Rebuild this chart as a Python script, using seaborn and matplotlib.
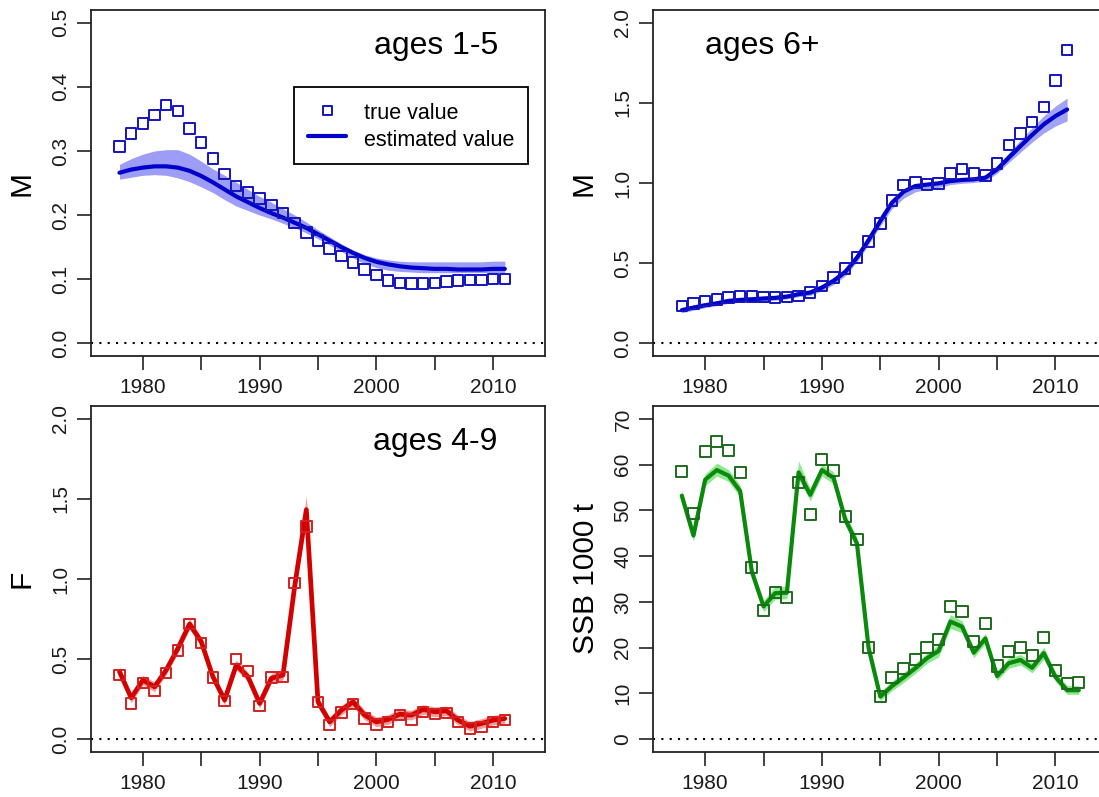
import matplotlib
matplotlib.use("Agg")
import matplotlib.pyplot as plt
import numpy as np
import pandas as pd
import seaborn as sns

# ---------------- data ----------------
years_m = list(range(1978, 2012))          # 34 years
years_ssb = list(range(1978, 2013))        # 35 years

m15_true = [0.307, 0.327, 0.343, 0.356, 0.372, 0.362, 0.335, 0.313, 0.288, 0.264,
            0.245, 0.235, 0.226, 0.216, 0.203, 0.188, 0.173, 0.160, 0.148, 0.136,
            0.126, 0.115, 0.106, 0.098, 0.094, 0.093, 0.093, 0.094, 0.096, 0.098,
            0.099, 0.099, 0.100, 0.100]
m15_est = [0.266, 0.271, 0.274, 0.276, 0.276, 0.274, 0.269, 0.261, 0.251, 0.240,
           0.229, 0.220, 0.211, 0.203, 0.196, 0.188, 0.180, 0.170, 0.160, 0.150,
           0.141, 0.133, 0.127, 0.123, 0.120, 0.118, 0.117, 0.116, 0.116, 0.115,
           0.115, 0.115, 0.116, 0.116]
m15_hi = [0.279, 0.288, 0.295, 0.300, 0.302, 0.302, 0.295, 0.284, 0.272, 0.262,
          0.251, 0.240, 0.229, 0.220, 0.210, 0.200, 0.189, 0.177, 0.166, 0.155,
          0.145, 0.138, 0.133, 0.130, 0.128, 0.127, 0.127, 0.127, 0.127, 0.127,
          0.127, 0.127, 0.128, 0.128]
m15_lo = [0.256, 0.259, 0.262, 0.263, 0.262, 0.258, 0.252, 0.244, 0.235, 0.224,
          0.214, 0.207, 0.200, 0.194, 0.187, 0.180, 0.172, 0.163, 0.153, 0.143,
          0.133, 0.124, 0.118, 0.114, 0.112, 0.111, 0.110, 0.110, 0.110, 0.110,
          0.110, 0.110, 0.110, 0.110]

m6_true = [0.233, 0.247, 0.264, 0.274, 0.285, 0.291, 0.291, 0.289, 0.285, 0.289,
           0.295, 0.316, 0.358, 0.410, 0.466, 0.534, 0.634, 0.746, 0.892, 0.987,
           1.002, 0.990, 0.998, 1.060, 1.089, 1.060, 1.048, 1.121, 1.237, 1.308,
           1.380, 1.476, 1.640, 1.829]
m6_est = [0.206, 0.222, 0.237, 0.249, 0.264, 0.270, 0.274, 0.279, 0.283, 0.291,
          0.306, 0.316, 0.347, 0.389, 0.445, 0.534, 0.644, 0.763, 0.877, 0.946,
          0.981, 0.990, 0.998, 1.012, 1.019, 1.023, 1.033, 1.085, 1.158, 1.230,
          1.300, 1.366, 1.418, 1.459]
m6_hi = [0.222, 0.238, 0.252, 0.264, 0.279, 0.285, 0.289, 0.294, 0.298, 0.306,
         0.322, 0.334, 0.367, 0.412, 0.470, 0.560, 0.672, 0.790, 0.900, 0.962,
         0.995, 1.003, 1.010, 1.025, 1.033, 1.038, 1.050, 1.108, 1.188, 1.268,
         1.345, 1.420, 1.480, 1.530]
m6_lo = [0.190, 0.206, 0.222, 0.234, 0.249, 0.255, 0.259, 0.264, 0.268, 0.276,
         0.290, 0.298, 0.327, 0.366, 0.420, 0.508, 0.616, 0.730, 0.840, 0.905,
         0.945, 0.960, 0.972, 0.990, 0.998, 1.003, 1.012, 1.060, 1.128, 1.192,
         1.255, 1.312, 1.356, 1.388]

f_true = [0.400, 0.223, 0.352, 0.300, 0.415, 0.553, 0.719, 0.599, 0.386, 0.238,
          0.500, 0.425, 0.208, 0.386, 0.390, 0.974, 1.328, 0.233, 0.088, 0.167,
          0.219, 0.129, 0.092, 0.108, 0.150, 0.123, 0.171, 0.156, 0.165, 0.108,
          0.067, 0.077, 0.108, 0.119]
f_est = [0.421, 0.258, 0.369, 0.327, 0.432, 0.567, 0.719, 0.609, 0.390, 0.244,
         0.463, 0.390, 0.223, 0.380, 0.400, 0.953, 1.433, 0.233, 0.108, 0.181,
         0.233, 0.150, 0.108, 0.123, 0.156, 0.150, 0.186, 0.171, 0.177, 0.119,
         0.081, 0.098, 0.119, 0.129]
f_hi = [0.451, 0.288, 0.399, 0.357, 0.462, 0.597, 0.752, 0.639, 0.420, 0.274,
        0.493, 0.420, 0.253, 0.410, 0.430, 1.000, 1.520, 0.263, 0.138, 0.211,
        0.263, 0.180, 0.138, 0.153, 0.186, 0.180, 0.216, 0.201, 0.207, 0.149,
        0.111, 0.128, 0.149, 0.159]
f_lo = [0.391, 0.228, 0.339, 0.297, 0.402, 0.537, 0.686, 0.579, 0.360, 0.214,
        0.433, 0.360, 0.193, 0.350, 0.370, 0.906, 1.360, 0.203, 0.078, 0.151,
        0.203, 0.120, 0.078, 0.093, 0.126, 0.120, 0.156, 0.141, 0.147, 0.089,
        0.051, 0.068, 0.089, 0.099]

ssb_true = [58.4, 49.3, 62.8, 65.1, 63.1, 58.2, 37.6, 28.2, 32.1, 31.0,
            56.0, 49.1, 61.1, 58.8, 48.7, 43.6, 20.0, 9.3, 13.4, 15.5,
            17.5, 20.1, 21.8, 29.0, 27.9, 21.3, 25.3, 16.0, 19.1, 20.1,
            18.2, 22.3, 15.0, 12.2, 12.3]
ssb_est = [53.2, 44.5, 56.7, 58.8, 57.6, 54.2, 36.6, 29.0, 31.9, 32.0,
           58.3, 53.4, 58.8, 57.1, 48.0, 42.8, 19.9, 9.3, 11.6, 13.5,
           15.5, 17.7, 19.3, 25.7, 24.6, 18.9, 22.0, 13.8, 16.6, 17.3,
           15.6, 18.8, 13.6, 10.7, 10.7]
ssb_hi = [54.5, 45.8, 58.0, 60.3, 58.9, 55.5, 37.9, 30.3, 33.4, 33.3,
          60.8, 54.7, 60.1, 58.4, 49.3, 44.1, 21.2, 10.3, 12.7, 14.6,
          16.6, 18.8, 20.6, 27.2, 25.9, 20.0, 23.1, 14.9, 17.7, 18.5,
          16.7, 20.1, 14.7, 11.7, 11.7]
ssb_lo = [52.0, 43.3, 55.4, 57.5, 56.3, 52.9, 35.3, 27.8, 30.6, 30.7,
          56.8, 52.1, 57.5, 55.8, 46.7, 41.5, 18.6, 8.4, 10.6, 12.4,
          14.4, 16.6, 18.0, 24.2, 23.3, 17.8, 20.9, 12.8, 15.5, 16.2,
          14.5, 17.5, 12.6, 9.8, 9.8]

x_ticks = [1980, 1985, 1990, 1995, 2000, 2005, 2010]
x_ticklabels = ["1980", "", "1990", "", "2000", "", "2010"]

# ---------------- style ----------------
sns.set_theme(style="ticks")
plt.rcParams["font.family"] = ["Liberation Sans", "DejaVu Sans"]
plt.rcParams.update({
    "text.color": "black",
    "axes.labelcolor": "black",
    "axes.edgecolor": "#222222",
    "axes.linewidth": 1.3,
    "xtick.major.size": 10,
    "ytick.major.size": 10,
    "xtick.major.width": 1.2,
    "ytick.major.width": 1.2,
    "xtick.color": "#222222",
    "ytick.color": "#222222",
    "xtick.labelcolor": "#1a1a1a",
    "ytick.labelcolor": "#1a1a1a",
    "xtick.labelsize": 15,
    "ytick.labelsize": 15,
    "xtick.major.pad": 6,
    "ytick.major.pad": 5,
})

W, H = 1099, 797
fig = plt.figure(figsize=(W / 100, H / 100), dpi=100)

def rect(left_px, top_px, w_px=454, h_px=346):
    return [left_px / W, 1 - (top_px + h_px) / H, w_px / W, h_px / H]

XLIM = (1975.56, 2014.44)


def panel(ax, years, true, est, lo, hi, c_line, c_sq, c_band, ymax, yticks, ylabels,
          ylabel, ms, lw, label_x):
    df = pd.DataFrame({"year": years, "true": true, "est": est, "lo": lo, "hi": hi})
    ax.fill_between(df["year"], df["lo"], df["hi"], color=c_band, lw=0, zorder=1)
    sns.lineplot(data=df, x="year", y="est", ax=ax, color=c_line, lw=lw,
                 label="estimated value", zorder=3)
    sns.scatterplot(data=df, x="year", y="true", ax=ax, marker="s", s=ms ** 2,
                    facecolors="none", edgecolor=c_sq, linewidth=1.4,
                    label="true value", zorder=4)
    ax.axhline(0, color="black", lw=1.5, ls=(0, (1, 3)), zorder=2)
    ax.set_xlim(*XLIM)
    ax.set_ylim(-0.04 * ymax, 1.04 * ymax)
    ax.set_xticks(x_ticks)
    ax.set_xticklabels(x_ticklabels)
    ax.set_yticks(yticks)
    ax.set_yticklabels(ylabels, rotation=90, va="center")
    ax.set_xlabel("")
    ax.set_ylabel(ylabel, fontsize=21.5, color="black")
    ax.yaxis.label.set_va("center")
    ax.yaxis.set_label_coords(label_x, 0.5)
    for s in ax.spines.values():
        s.set_visible(True)
    if ax.get_legend() is not None:
        ax.get_legend().remove()


blue = "#0000CD"
ax1 = fig.add_axes(rect(91, 10))
panel(ax1, years_m, m15_true, m15_est, m15_lo, m15_hi, blue, "#1414C0", "#9d9df5",
      0.5, [0, 0.1, 0.2, 0.3, 0.4, 0.5], ["0.0", "0.1", "0.2", "0.3", "0.4", "0.5"],
      "M", 7.5, 3.0, -0.153)
ax1.text(0.896, 0.873, "ages 1-5", transform=ax1.transAxes, ha="right",
         va="baseline", fontsize=23, color="black")
h, l = ax1.get_legend_handles_labels()
order = [l.index("true value"), l.index("estimated value")]
leg = ax1.legend([h[i] for i in order], [l[i] for i in order], loc="upper left",
                 bbox_to_anchor=(0.447, 0.7775), borderaxespad=0, fontsize=15.5,
                 frameon=True, fancybox=False, edgecolor="black", framealpha=1,
                 borderpad=0.64, handlelength=1.8, handletextpad=0.8,
                 labelspacing=0.14, handleheight=1.21, scatterpoints=1,
                 markerscale=0.85, labelcolor="black")
leg.get_frame().set_linewidth(1.3)

ax2 = fig.add_axes(rect(653.3, 10))
panel(ax2, years_m, m6_true, m6_est, m6_lo, m6_hi, blue, "#1414C0", "#a3a3f5",
      2.0, [0, 0.5, 1.0, 1.5, 2.0], ["0.0", "0.5", "1.0", "1.5", "2.0"],
      "M", 7.5, 3.0, -0.153)
ax2.text(0.114, 0.873, "ages 6+", transform=ax2.transAxes, ha="left",
         va="baseline", fontsize=23, color="black")

ax3 = fig.add_axes(rect(91, 406))
panel(ax3, years_m, f_true, f_est, f_lo, f_hi, "#D40000", "#D42020", "#f59a9a",
      2.0, [0, 0.5, 1.0, 1.5, 2.0], ["0.0", "0.5", "1.0", "1.5", "2.0"],
      "F", 7.5, 3.4, -0.153)
ax3.text(0.896, 0.873, "ages 4-9", transform=ax3.transAxes, ha="right",
         va="baseline", fontsize=23, color="black")

ax4 = fig.add_axes(rect(653.3, 406))
panel(ax4, years_ssb, ssb_true, ssb_est, ssb_lo, ssb_hi, "#0A8A0A", "#1E6B1E",
      "#8fe88f", 70, [0, 10, 20, 30, 40, 50, 60, 70],
      ["0", "10", "20", "30", "40", "50", "60", "70"],
      "SSB 1000 t", 8.0, 3.0, -0.148)

fig.savefig("out.png", dpi=100)
